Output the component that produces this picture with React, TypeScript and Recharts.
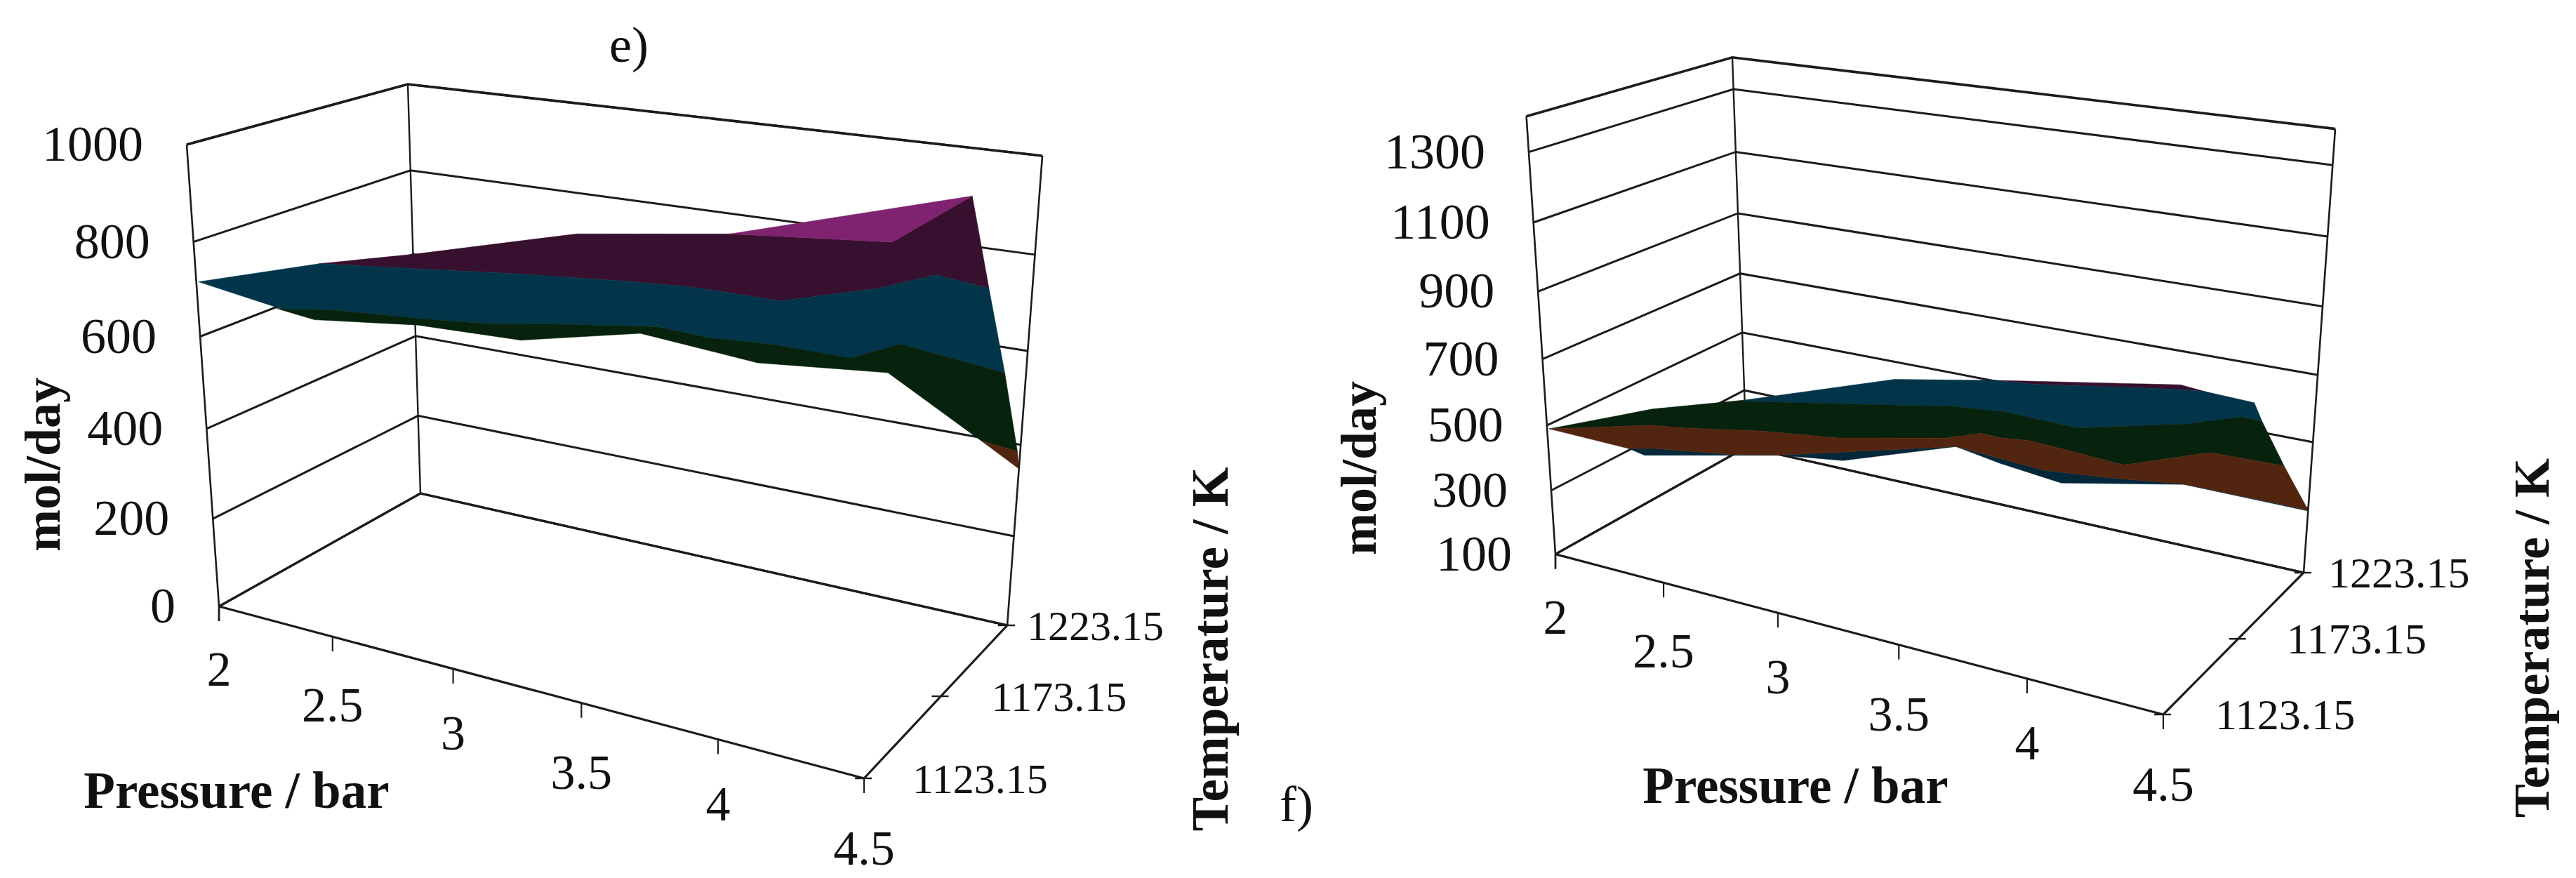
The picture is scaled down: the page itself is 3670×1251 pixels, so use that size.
import React from 'react';
import { ScatterChart, Scatter, XAxis, YAxis } from 'recharts';

type Pt = [number, number, number]; // pressure / bar, temperature / K, mol/day
const T1 = 1123.15, T1b = 1133.15, T1c = 1148.15, T2 = 1173.15, T3 = 1193.15, T3b = 1198.15, T4 = 1223.15;

const pressureTicks = [2, 2.5, 3, 3.5, 4, 4.5];
const pressureLabels = ['2', '2.5', '3', '3.5', '4', '4.5'];
const temperatureTicks = [T1, T2, T4];
const temperatureLabels = ['1123.15', '1173.15', '1223.15'];
const eValueTicks = [0, 200, 400, 600, 800, 1000];
const fValueTicks = [100, 300, 500, 700, 900, 1100, 1300];

// chart e) surface outlines
const eTop: Pt[] = [[2.01,T1,717],[2.03,T2,668],[2.0,T4,600],[2.76,T4,707],[3.4,T4,756],[4.28,T4,903]];
const ePurpleEnd: Pt = [4.01,T4,786];
const ePT: Pt[] = [[2.58,T2,699],[2.91,T2,718],[3.35,T2,739],[3.56,T2,747],[3.68,T2,748],[3.89,T2,747],[4.22,T2,802],[4.4,T2,844],[4.46,T3b,775]];
const eTG: Pt[] = [[2.37,T1,692],[2.59,T1,709],[2.96,T1,725],[3.2,T1,738],[3.43,T1,759],[3.71,T1,782],[3.8,T1,789],[3.96,T1,785],[4.17,T1,793],[4.4,T1,792],[4.42,T1c,765],[4.53,T3b,611]];
const eLow: Pt[] = [[2.35,T1,691],[2.51,T1,682],[2.93,T1,710],[3.32,T1,717],[3.74,T1,771],[4.12,T1,754],[4.51,T1,777]];
const eEnd: Pt[] = [[4.49,T3,479],[4.49,T4,385],[4.5,T4,348]];

// chart f) surface outlines
const fTop: Pt[] = [[2.01,T1,491],[2.0,T2,393],[2.0,T4,266],[2.74,T4,442],[3.19,T4,502],[3.37,T4,514],[3.98,T4,584],[4.08,T4,591],[4.27,T4,585]];
const fPlumEnd: Pt = [3.98,T4,598];
const fTG: Pt[] = [[2.45,T2,483],[2.96,T2,547],[3.36,T2,599],[3.58,T2,614],[3.7,T2,612],[3.87,T2,609],[4.28,T2,683],[4.46,T2,729],[4.42,T3b,631]];
const fGB: Pt[] = [[2.24,T1c,456],[2.4,T1c,471],[2.75,T1c,514],[3.08,T1c,543],[3.52,T1c,609],[3.66,T1c,644],[3.73,T1c,642],[3.85,T1c,651],[4.19,T1c,637],[4.36,T2,614],[4.51,T3b,515]];
const fBL: Pt[] = [[2.38,T1,487],[2.49,T1,504],[2.84,T1,540],[3.04,T1,569],[3.74,T1,701],[3.9,T1,694],[4.06,T1,687],[4.31,T1,706],[4.48,T1b,684],[4.5,T4,294]];
const fOut: Pt[] = [[2.45,T1,478],[3.05,T1,570],[3.3,T1,594],[3.9,T1,681],[4.12,T1,663],[4.48,T1b,683],[4.5,T4,291]];

const rev = <X,>(a: X[]) => [...a].reverse();

const PURPLE = '#7f2270', PLUM = '#38102f', TEAL = '#03354a', TEAL_D = '#03283a', GREEN = '#07220d', BROWN = '#522510';

const eSurface: [string, Pt[]][] = [
  [PLUM, [...eTop.slice(1, 5), ePurpleEnd, eTop[5], ...rev(ePT), eTop[1]]],
  [PURPLE, [eTop[4], eTop[5], ePurpleEnd]],
  [TEAL, [eTop[0], eTop[1], ...ePT, ...rev(eTG)]],
  [GREEN, [...eTG, eEnd[1], eEnd[0], ...rev(eLow)]],
  [BROWN, eEnd],
];
const fSurface: [string, Pt[]][] = [
  [TEAL_D, [fBL[0], fOut[0], fOut[1], fOut[2], fBL[4], ...fOut.slice(3), ...rev(fBL.slice(1))]],
  [PLUM, [fTop[4], fPlumEnd, fTop[7], fTop[6], fTop[5]]],
  [TEAL, [...fTop.slice(2), ...rev(fTG)]],
  [GREEN, [fTop[0], fTop[1], fTop[2], ...fTG, ...rev(fGB)]],
  [BROWN, [fTop[0], ...fGB, fBL[9], ...rev(fBL.slice(0, 9))]],
];

type XY = [number, number];
interface Box { A: XY; B: XY; C: XY; D: XY; At: XY; Bt: XY; Ct: XY; Dt: XY; vmin: number; vmax: number; c: number }
const boxE: Box = { A: [312,864], B: [1231,1109], C: [1435,891], D: [599,703], At: [266,206], Bt: [1269,353], Ct: [1485,222], Dt: [581,120], vmin: 0, vmax: 1000, c: 1.067 };
const boxF: Box = { A: [2216,789.6], B: [3082,1018], C: [3282,816], D: [2488,637], At: [2174.6,165.7], Bt: [3115,308.5], Ct: [3327,183.6], Dt: [2468,81.8], vmin: 100, vmax: 1400, c: 1.067 };

function H(q: XY[], u: number, v: number): XY {
  const [[x0,y0],[x1,y1],[x2,y2],[x3,y3]] = q;
  const dx1=x1-x2, dx2=x3-x2, sx=x0-x1+x2-x3, dy1=y1-y2, dy2=y3-y2, sy=y0-y1+y2-y3;
  const den=dx1*dy2-dx2*dy1;
  const g=(sx*dy2-dx2*sy)/den, h=(dx1*sy-sx*dy1)/den;
  const a=x1-x0+g*x1, b=x3-x0+h*x3, d=y1-y0+g*y1, e=y3-y0+h*y3;
  const w=g*u+h*v+1;
  return [(a*u+b*v+x0)/w,(d*u+e*v+y0)/w];
}
function proj(c: Box, p: number, T: number, val: number) {
  const u=(p-2)/2.5, t=(T-T1)/100, w=(val-c.vmin)/(c.vmax-c.vmin);
  const wp=w/(w+c.c*(1-w));
  const b=H([c.A,c.B,c.C,c.D],u,t), a=H([c.At,c.Bt,c.Ct,c.Dt],u,t);
  return { x: b[0]+(a[0]-b[0])*wp, y: b[1]+(a[1]-b[1])*wp };
}

const INK = '#1c1c1c';
const Empty = () => <g />;

function renderPoly(key: string, data: any[], fill: string) {
  return (
    <Scatter key={key} data={data} isAnimationActive={false} shape={Empty as any} lineType="joint"
      line={(lp: any) => <path d={'M' + lp.points.map((q: any) => q.x + ' ' + q.y).join('L') + 'Z'} fill={fill} stroke={fill} strokeWidth={0.5} />} />
  );
}
function renderLine(key: string, data: any[], w = 3) {
  return (
    <Scatter key={key} data={data} isAnimationActive={false} shape={Empty as any} lineType="joint"
      line={(lp: any) => <path d={'M' + lp.points.map((q: any) => q.x + ' ' + q.y).join('L')} fill="none" stroke={INK} strokeWidth={w} />} />
  );
}
function renderText(key: string, data: any[]) {
  return (
    <Scatter key={key} data={data} isAnimationActive={false} shape={((s: any) => {
      const d = s.payload;
      return <text x={s.cx} y={s.cy} textAnchor={d.anchor || 'middle'} fontFamily="'Liberation Serif', serif"
        fontSize={d.size || 70} fontWeight={d.bold ? 700 : 400} fill="#111"
        transform={d.rot ? `rotate(${d.rot} ${s.cx} ${s.cy})` : undefined}>{d.text}</text>;
    }) as any} />
  );
}

function frame(id: string, c: Box, valueTicks: number[]) {
  const top = c.vmax, low = c.vmin;
  const lines: any[] = [];
  const P = (p: number, T: number, v: number) => proj(c, p, T, v);
  valueTicks.forEach((v, i) => lines.push(renderLine(id + 'g' + i, [P(2,T1,v), P(2,T4,v), P(4.5,T4,v)])));
  lines.push(renderLine(id + 'top', [P(2,T1,top), P(2,T4,top), P(4.5,T4,top)], 3.6));
  lines.push(renderLine(id + 'vl', [P(2,T1,top), P(2,T1,low), { x: c.A[0], y: c.A[1] + 21 }], 2.6));
  lines.push(renderLine(id + 'vb', [P(2,T4,top), P(2,T4,low)], 2.4));
  lines.push(renderLine(id + 'vr', [P(4.5,T4,top), P(4.5,T4,low)], 2.6));
  lines.push(renderLine(id + 'f', [P(2,T1,low), P(4.5,T1,low), P(4.5,T4,low), P(2,T4,low), P(2,T1,low)], 3.2));
  pressureTicks.forEach((p, i) => {
    const q = P(p,T1,low);
    lines.push(renderLine(id + 'pt' + i, [q, { x: q.x, y: q.y + 21 }], 2.2));
  });
  temperatureTicks.forEach((T, i) => {
    const q = P(4.5,T,low);
    lines.push(renderLine(id + 'tt' + i, [{ x: q.x - 13, y: q.y }, { x: q.x + 11, y: q.y }], 2.4));
  });
  return lines;
}

const pressureOffsets = [89, 97, 91, 98, 91, 99];

function labels(c: Box, valueTicks: number[], tOffsets: number[], tSize: number) {
  const out: any[] = [];
  valueTicks.forEach(v => {
    const q = proj(c, 2, T1, v);
    out.push({ x: q.x - 62, y: q.y + 23, text: String(v), anchor: 'end', size: 72 });
  });
  pressureTicks.forEach((p, i) => {
    const q = proj(c, p, T1, c.vmin);
    out.push({ x: q.x, y: q.y + pressureOffsets[i] + 24, text: pressureLabels[i], size: 70 });
  });
  temperatureTicks.forEach((T, i) => {
    const q = proj(c, 4.5, T, c.vmin);
    out.push({ x: q.x + tOffsets[i], y: q.y + 21, text: temperatureLabels[i], anchor: 'start', size: tSize });
  });
  return out;
}

const textData = [
  ...labels(boxE, eValueTicks, [69, 72, 28], 60),
  ...labels(boxF, fValueTicks, [74, 69, 35], 62),
  { x: 337, y: 1151, text: 'Pressure / bar', bold: true, size: 73 },
  { x: 2558, y: 1144, text: 'Pressure / bar', bold: true, size: 73 },
  { x: 85, y: 662, text: 'mol/day', bold: true, rot: -90, size: 72 },
  { x: 1960, y: 667, text: 'mol/day', bold: true, rot: -90, size: 72 },
  { x: 1749, y: 925, text: 'Temperature / K', bold: true, rot: -90, size: 73 },
  { x: 3631, y: 909, text: 'Temperature / K', bold: true, rot: -90, size: 72 },
  { x: 896, y: 88, text: 'e)', size: 72 },
  { x: 1847, y: 1170, text: 'f)', size: 72 },
];

const surf = (c: Box, s: [string, Pt[]][], id: string) =>
  s.map(([fill, pts], i) => renderPoly(id + i, pts.map(q => proj(c, q[0], q[1], q[2])), fill));

export default function App() {
  return (
    <div style={{ position: 'absolute', left: 0, top: 0, background: '#fff' }}>
      <ScatterChart width={3670} height={1251} margin={{ top: 0, right: 0, bottom: 0, left: 0 }}>
        <XAxis type="number" dataKey="x" domain={[0, 3670]} hide allowDataOverflow />
        <YAxis type="number" dataKey="y" domain={[0, 1251]} reversed hide allowDataOverflow />
        {frame('e', boxE, eValueTicks)}
        {frame('f', boxF, fValueTicks)}
        {surf(boxE, eSurface, 'se')}
        {surf(boxF, fSurface, 'sf')}
        {renderText('labels', textData)}
      </ScatterChart>
    </div>
  );
}
